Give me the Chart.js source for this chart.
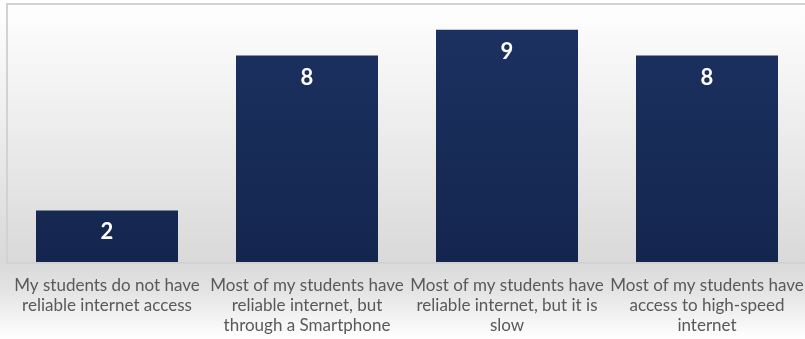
<!DOCTYPE html>
<html>
<head>
<meta charset="utf-8">
<script src="https://cdn.jsdelivr.net/npm/chart.js@4"></script>
<style>
  html, body { margin: 0; padding: 0; overflow: hidden; }
  body {
    width: 805px; height: 339px;
    background: linear-gradient(to bottom, #ffffff 0%, #e9e9e9 45%, #d9d9d9 77%, #e4e4e4 86%, #ffffff 100%);
  }
  #wrap { position: absolute; left: 0; top: 0; width: 812px; height: 346px; }
</style>
</head>
<body>
<div id="wrap"><canvas id="chart"></canvas></div>
<script>
const categories = [
  ["My students do not have", "reliable internet access"],
  ["Most of my students have", "reliable internet, but", "through a Smartphone"],
  ["Most of my students have", "reliable internet, but it is", "slow"],
  ["Most of my students have", "access to high-speed", "internet"]
];
const counts = [2, 8, 9, 8];

const FONT = "Lato, 'Open Sans', sans-serif";

// Light frame around the plot area
const plotFrame = {
  id: "plotFrame",
  beforeDatasetsDraw(chart) {
    const { ctx, chartArea: a } = chart;
    ctx.save();
    ctx.strokeStyle = "#d2d2d2";
    ctx.lineWidth = 2;
    ctx.strokeRect(a.left, a.top, a.right - a.left, a.bottom - a.top + 1);
    ctx.restore();
  }
};

// Value printed inside each bar near its top
const barValues = {
  id: "barValues",
  afterDatasetsDraw(chart) {
    const { ctx } = chart;
    const meta = chart.getDatasetMeta(0);
    ctx.save();
    ctx.fillStyle = "#ffffff";
    ctx.font = "bold 22px " + FONT;
    ctx.textAlign = "center";
    ctx.textBaseline = "middle";
    meta.data.forEach((bar, i) => {
      ctx.fillText(String(counts[i]), bar.x, bar.y + 22);
    });
    ctx.restore();
  }
};

function barFill(context) {
  const { ctx, chartArea } = context.chart;
  if (!chartArea) return "#1a2f5e";
  const g = ctx.createLinearGradient(0, chartArea.top, 0, chartArea.bottom);
  g.addColorStop(0, "#1c3262");
  g.addColorStop(1, "#14264f");
  return g;
}

new Chart("chart", {
  type: "bar",
  data: {
    labels: categories,
    datasets: [{
      data: counts,
      backgroundColor: barFill,
      borderWidth: 0,
      barPercentage: 0.71,
      categoryPercentage: 1.0
    }]
  },
  options: {
    responsive: true,
    maintainAspectRatio: false,
    animation: false,
    layout: { padding: { left: 7, top: 4, right: 5, bottom: 4 } },
    plugins: { legend: { display: false }, tooltip: { enabled: false } },
    scales: {
      y: { display: false, min: 0, max: 10 },
      x: {
        grid: { display: false },
        border: { display: false },
        ticks: {
          color: "#595959",
          font: { family: FONT, size: 17, lineHeight: "20px" },
          maxRotation: 0,
          autoSkip: false,
          padding: 6
        }
      }
    }
  },
  plugins: [plotFrame, barValues]
});
</script>
</body>
</html>
